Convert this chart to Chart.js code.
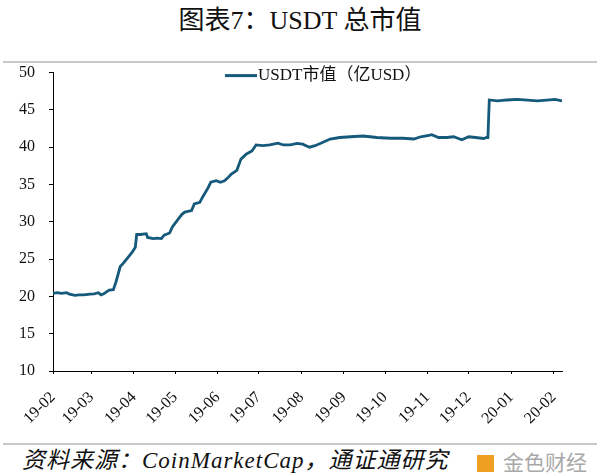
<!DOCTYPE html>
<html>
<head>
<meta charset="utf-8">
<script src="https://cdn.jsdelivr.net/npm/chart.js@4/dist/chart.umd.min.js"></script>
<style>
  html, body { margin: 0; padding: 0; background: #fff; }
  #page { position: relative; width: 600px; height: 473px; overflow: hidden; }
  #title { position: absolute; top: 6px; left: 0; width: 600px; text-align: center; line-height: 30px;
    font-family: "Liberation Serif", "Noto Sans CJK SC", serif; font-size: 26px; color: #111; }
  .rule { position: absolute; left: 3px; width: 594px; height: 2px; background: #c8c8c8; }
  #chartBox { position: absolute; left: 0; top: 49px; width: 600px; height: 391px; }
  #source { position: absolute; left: 22px; top: 449px; font-style: italic; line-height: 24px; letter-spacing: 1px;
    font-family: "Liberation Serif", "Noto Sans CJK SC", serif; font-size: 23px; color: #111; }
  #logo { position: absolute; left: 477px; top: 450px; font-family: "Noto Sans CJK SC", sans-serif; line-height: 22px;
    font-size: 21px; color: #a8a8a8; }
  #logo span { display: inline-block; width: 17px; height: 17px; background: #f0a020; margin-right: 9px; vertical-align: -2px; }
</style>
</head>
<body>
<div id="page">
  <div id="title">图表7：USDT 总市值</div>
  <div class="rule" style="top:61px"></div>
  <div id="chartBox"><canvas id="dataChart" width="600" height="391"></canvas></div>
  <div class="rule" style="top:443px"></div>
  <div id="source">资料来源：CoinMarketCap，通证通研究</div>
  <div id="logo"><span></span>金色财经</div>
</div>
<script>
// days since 2019-02-01
const days = [0, 3, 6, 10, 12, 16, 19, 22, 24, 27, 30, 33, 35, 37, 39, 41, 44, 46, 49, 51,
  55, 58, 60, 61, 64, 68, 69, 73, 76, 79, 81, 85, 87, 91, 94, 96, 101, 103, 107, 109,
  113, 115, 119, 122, 125, 128, 130, 134, 137, 141, 145, 148, 153, 158, 164, 168, 173, 178, 182, 186,
  187, 191, 196, 202, 209, 217, 226, 236, 246, 255, 263, 268, 274, 276, 281, 287, 292, 298, 303, 308,
  314, 316, 317, 318, 324, 331, 338, 346, 353, 360, 366, 371];
// USDT market cap, 100 million USD
const marketCap = [20.4, 20.5, 20.4, 20.5, 20.3, 20.15, 20.2, 20.2, 20.25, 20.3, 20.35, 20.5, 20.2, 20.35, 20.6, 20.85, 20.9, 22.0, 24.0, 24.4,
  25.3, 26.0, 26.6, 28.3, 28.3, 28.4, 27.9, 27.75, 27.8, 27.75, 28.2, 28.5, 29.3, 30.3, 31.0, 31.3, 31.5, 32.4, 32.6, 33.3,
  34.55, 35.3, 35.5, 35.3, 35.5, 36.0, 36.4, 36.9, 38.4, 39.1, 39.5, 40.3, 40.2, 40.3, 40.55, 40.3, 40.3, 40.5, 40.4, 40.07,
  40.0, 40.2, 40.6, 41.1, 41.3, 41.4, 41.5, 41.3, 41.2, 41.2, 41.1, 41.4, 41.6, 41.67, 41.3, 41.3, 41.4, 41.0, 41.4, 41.3,
  41.17, 41.3, 41.3, 46.33, 46.2, 46.33, 46.4, 46.3, 46.2, 46.3, 46.4, 46.2];
// month starts (days since 2019-02-01) and their labels
const monthTicks = [0, 28, 59, 89, 120, 150, 181, 212, 242, 273, 303, 334, 365];
const monthLabels = ['19-02', '19-03', '19-04', '19-05', '19-06', '19-07', '19-08', '19-09', '19-10', '19-11', '19-12', '20-01', '20-02'];
const seriesName = 'USDT市值（亿USD）';

const lineColor = '#15597b';
const serif = '"Liberation Serif", "Noto Sans CJK SC", serif';

// legend drawn inside the plot, near the top
const insideLegend = {
  id: 'insideLegend',
  afterDraw(chart) {
    const c = chart.ctx;
    const x = 225, y = chart.chartArea.top + 3;
    c.save();
    c.strokeStyle = lineColor;
    c.lineWidth = 3;
    c.beginPath();
    c.moveTo(x, y);
    c.lineTo(x + 32, y);
    c.stroke();
    c.fillStyle = '#111';
    c.font = '17px ' + serif;
    c.textBaseline = 'middle';
    c.fillText(seriesName, x + 33, y);
    c.restore();
  }
};

new Chart(document.getElementById('dataChart'), {
  type: 'line',
  data: {
    datasets: [{
      label: seriesName,
      data: days.map((d, i) => ({ x: d, y: marketCap[i] })),
      borderColor: lineColor,
      borderWidth: 2.8,
      pointRadius: 0,
      tension: 0,
      fill: false
    }]
  },
  plugins: [insideLegend],
  options: {
    responsive: false,
    animation: false,
    layout: { padding: { top: 5, right: 38, left: 0, bottom: 0 } },
    plugins: {
      legend: { display: false },
      tooltip: { enabled: false }
    },
    scales: {
      x: {
        type: 'linear',
        min: 0,
        max: 371,
        afterBuildTicks: axis => { axis.ticks = monthTicks.map(v => ({ value: v })); },
        afterFit: axis => { axis.height = 69; },
        border: { color: '#000', width: 1 },
        grid: { display: true, drawOnChartArea: false, drawTicks: true, tickLength: 3, color: '#000' },
        ticks: {
          autoSkip: false,
          minRotation: 45,
          maxRotation: 45,
          padding: 14,
          color: '#111',
          font: { family: serif, size: 16 },
          callback: v => monthLabels[monthTicks.indexOf(v)]
        }
      },
      y: {
        min: 10,
        max: 50,
        afterFit: axis => { axis.width = 53; },
        border: { color: '#000', width: 1 },
        grid: { display: true, drawOnChartArea: false, drawTicks: true, tickLength: 4, color: '#000' },
        ticks: {
          stepSize: 5,
          padding: 14,
          color: '#111',
          font: { family: serif, size: 16 }
        }
      }
    }
  }
});
</script>
</body>
</html>
